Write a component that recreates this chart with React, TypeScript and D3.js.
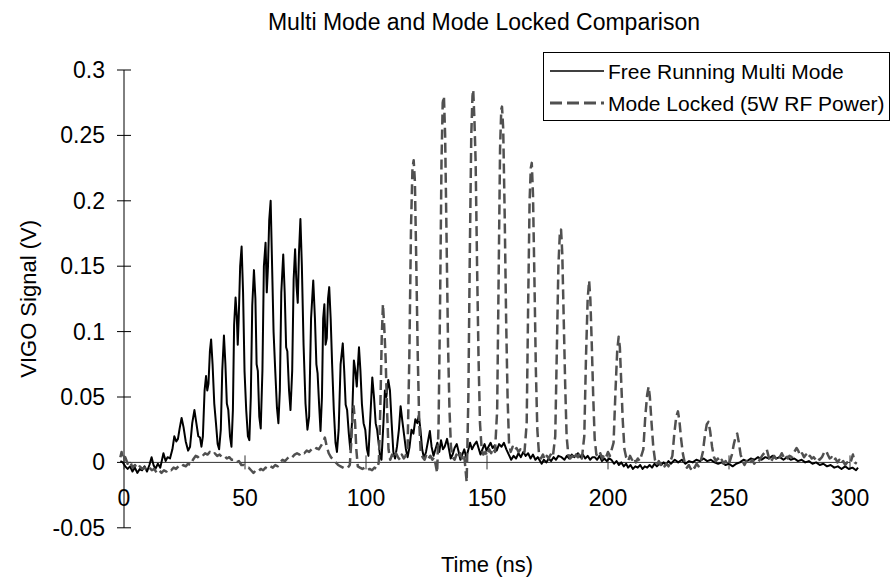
import React from "react";
import * as d3 from "d3";

const chartTitle = "Multi Mode and Mode Locked Comparison";
const xTitle = "Time (ns)";
const yTitle = "VIGO Signal (V)";
const seriesNames = ["Free Running Multi Mode", "Mode Locked (5W RF Power)"];
const xTicks = [0, 50, 100, 150, 200, 250, 300];
const yTicks = [-0.05, 0, 0.05, 0.1, 0.15, 0.2, 0.25, 0.3];
const yTickLabels = ["-0.05", "0", "0.05", "0.1", "0.15", "0.2", "0.25", "0.3"];

// Free running multi mode: [time ns, signal V]
const freeRunning: [number, number][] = [
  [-1.5, 0.001], [-0.5, 0.0], [0.5, -0.003], [1.5, -0.005], [2.5, -0.003], [3.5, -0.007], [4.5, -0.004],
  [5.5, -0.008], [6.5, -0.005], [7.5, -0.006], [8.5, -0.003], [9.5, -0.007], [10.5, -0.002], [11.4, 0.004],
  [12.2, -0.002], [13, -0.005], [14, -0.001], [15, -0.004], [16.3, 0.007], [17.2, 0.001], [18, 0.004],
  [19, 0.003], [20, 0.01], [20.8, 0.02], [21.6, 0.016], [22.3, 0.018], [23, 0.026], [23.8, 0.034],
  [24.6, 0.027], [25.5, 0.016], [26.5, 0.009], [27.3, 0.012], [28.2, 0.03], [29.1, 0.04], [29.9, 0.03],
  [30.7, 0.02], [31.4, 0.019], [32.0, 0.012], [32.6, 0.02], [33.3, 0.055], [33.9, 0.066], [34.4, 0.055],
  [34.9, 0.06], [35.5, 0.085], [36.0, 0.094], [36.6, 0.075], [37.3, 0.045], [38.0, 0.03], [38.7, 0.014],
  [39.3, 0.01], [40.0, 0.025], [40.6, 0.07], [41.3, 0.097], [41.9, 0.075], [42.5, 0.045], [43.1, 0.04],
  [43.8, 0.02], [44.4, 0.012], [45.0, 0.04], [45.5, 0.105], [46.1, 0.126], [46.6, 0.112], [47.0, 0.09],
  [47.4, 0.11], [48.0, 0.15], [48.6, 0.165], [49.2, 0.13], [49.8, 0.07], [50.5, 0.04], [51.2, 0.02],
  [51.8, 0.017], [52.4, 0.05], [53.0, 0.12], [53.7, 0.147], [54.3, 0.125], [54.8, 0.075], [55.3, 0.07],
  [55.9, 0.035], [56.5, 0.026], [57.2, 0.07], [57.8, 0.15], [58.5, 0.168], [59.0, 0.13], [59.5, 0.15],
  [60.0, 0.185], [60.6, 0.2], [61.2, 0.15], [61.8, 0.1], [62.5, 0.07], [63.2, 0.042], [63.8, 0.03],
  [64.4, 0.055], [65.0, 0.13], [65.8, 0.159], [66.4, 0.13], [67.0, 0.088], [67.5, 0.085], [68.2, 0.055],
  [68.8, 0.04], [69.5, 0.07], [70.1, 0.14], [70.7, 0.163], [71.3, 0.135], [71.8, 0.122], [72.3, 0.16],
  [72.9, 0.186], [73.5, 0.15], [74.2, 0.09], [75.0, 0.045], [75.8, 0.025], [76.5, 0.035], [77.3, 0.11],
  [78.2, 0.139], [78.9, 0.11], [79.5, 0.075], [80.0, 0.068], [80.6, 0.045], [81.2, 0.024], [81.8, 0.05],
  [82.3, 0.11], [82.8, 0.121], [83.3, 0.09], [83.8, 0.095], [84.3, 0.125], [84.8, 0.134], [85.4, 0.11],
  [86.0, 0.075], [86.7, 0.04], [87.4, 0.015], [88.0, 0.008], [88.7, 0.025], [89.5, 0.075], [90.4, 0.091],
  [91.0, 0.07], [91.6, 0.044], [92.2, 0.04], [92.9, 0.022], [93.5, 0.01], [94.2, 0.03], [95.0, 0.078],
  [95.6, 0.07], [96.2, 0.058], [96.6, 0.072], [97.1, 0.088], [97.7, 0.07], [98.3, 0.045], [99.0, 0.03],
  [99.7, 0.025], [100.4, 0.01], [101.0, 0.005], [101.8, 0.035], [102.6, 0.065], [103.3, 0.05], [104.0, 0.03],
  [104.6, 0.025], [105.2, 0.015], [105.8, 0.005], [106.4, 0.002], [107.2, 0.03], [107.8, 0.055], [108.4, 0.05],
  [109.2, 0.063], [109.9, 0.055], [110.6, 0.03], [111.3, 0.008], [112.0, 0.003], [112.8, 0.012], [113.6, 0.025],
  [114.3, 0.043], [115.0, 0.032], [115.8, 0.02], [116.5, 0.01], [117.2, 0.004], [118.0, 0.012], [118.8, 0.025],
  [119.6, 0.022], [120.4, 0.033], [121.2, 0.03], [121.8, 0.036], [122.5, 0.025], [123.2, 0.01], [124.0, 0.003],
  [124.8, 0.008], [125.6, 0.016], [126.4, 0.024], [127.1, 0.012], [127.9, 0.005], [128.7, 0.01], [129.5, 0.015],
  [130.3, 0.008], [131.0, 0.017], [131.8, 0.01], [132.5, 0.012], [133.5, 0.018], [134.3, 0.01], [135.0, 0.003],
  [135.8, 0.006], [136.6, 0.011], [137.5, 0.014], [138.3, 0.008], [139.0, 0.002], [139.8, 0.006], [140.6, 0.01],
  [141.4, 0.004], [142.2, 0.009], [143.0, 0.015], [143.8, 0.01], [144.6, 0.013], [145.7, 0.016], [146.5, 0.011],
  [147.3, 0.006], [148.1, 0.01], [149.0, 0.014], [149.8, 0.009], [150.6, 0.012], [151.5, 0.015], [152.3, 0.011],
  [153.2, 0.013], [154.0, 0.009], [155.0, 0.014], [156.0, 0.012], [157.0, 0.015], [158.0, 0.01], [159.0, 0.006],
  [160.0, 0.002], [161.0, 0.005], [162.0, 0.003], [163.0, 0.007], [164.0, 0.004], [165.0, 0.008], [166.0, 0.005],
  [167.0, 0.007], [168.0, 0.003], [169.0, 0.006], [170.0, 0.002], [171.0, 0.004], [172.6, -0.001], [173.5, 0.002],
  [174.5, 0.0], [175.5, 0.003], [176.5, 0.001], [177.5, 0.004], [178.5, 0.002], [179.5, 0.005], [180.8, 0.004],
  [182.0, 0.002], [183.0, 0.005], [184.0, 0.003], [185.0, 0.006], [186.0, 0.004], [187.6, 0.007], [188.6, 0.004],
  [189.6, 0.006], [190.6, 0.003], [191.6, 0.005], [192.6, 0.002], [193.6, 0.004], [194.5, 0.004], [195.5, 0.002],
  [196.5, 0.005], [197.5, 0.001], [198.5, 0.003], [199.5, 0.001], [200.5, 0.003], [201.4, 0.002], [202.5, -0.001],
  [203.5, 0.001], [204.5, -0.002], [205.5, 0.0], [206.5, -0.003], [207.5, -0.001], [208.3, -0.004], [209.3, -0.002],
  [210.3, -0.005], [211.3, -0.003], [212.3, -0.004], [213.3, -0.002], [214.3, -0.005], [215.2, -0.003], [216.2, -0.004],
  [217.2, -0.002], [218.2, -0.004], [219.2, -0.001], [220.2, -0.003], [221.2, -0.001], [222.0, -0.002], [223.0, 0.0],
  [224.0, -0.002], [225.0, 0.001], [226.0, -0.001], [227.6, 0.002], [229, 0.0], [230.5, 0.002], [232, -0.001],
  [233.5, 0.001], [235, 0.0], [236.5, 0.002], [238, 0.001], [239.5, 0.003], [241, 0.001], [242.5, 0.002],
  [244, 0.0], [245.5, -0.001], [247, 0.0], [248.5, -0.002], [250, -0.001], [251.5, -0.003], [253, -0.001],
  [254.5, 0.0], [256, 0.002], [257.5, 0.001], [259, 0.003], [260.5, 0.002], [262, 0.004], [263.5, 0.002],
  [265, 0.004], [266.5, 0.003], [268, 0.005], [269.5, 0.003], [271, 0.004], [272.5, 0.002], [274, 0.004],
  [275.5, 0.002], [277, 0.003], [278.5, 0.001], [280, 0.002], [281.5, 0.0], [283, 0.001], [284.5, -0.001],
  [286, 0.0], [287.5, -0.002], [289, -0.001], [290.5, -0.003], [292, -0.002], [293.5, -0.004], [295, -0.003],
  [296.5, -0.005], [298, -0.003], [299.5, -0.005], [301, -0.004], [302.5, -0.006], [303.3, -0.004],
];

// Mode locked (5W RF power): [time ns, signal V]
const modeLocked: [number, number][] = [
  [-1.5, 0.004], [-1.0, 0.008], [-0.5, 0.002], [0.5, 0.004], [1.5, -0.001], [2.5, 0.001], [3.5, -0.004],
  [4.5, -0.002], [5.5, -0.005], [6.5, -0.003], [7.5, -0.005], [8.5, -0.004], [9.5, -0.006], [10.5, -0.004],
  [11.5, -0.006], [12.5, -0.005], [13.5, -0.008], [14.5, -0.006], [15.5, -0.008], [16.5, -0.006], [17.5, -0.007],
  [18.5, -0.005], [19.5, -0.006], [20.5, -0.004], [21.5, -0.005], [22.5, -0.003], [23.5, -0.004], [24.5, -0.002],
  [25.5, -0.003], [26.5, -0.001], [27.5, -0.002], [28.5, 0.002], [29.6, 0.005], [30.5, 0.004], [31.5, 0.006],
  [32.5, 0.005], [33.5, 0.007], [34.5, 0.006], [35.5, 0.008], [36.5, 0.006], [37.5, 0.007], [38.5, 0.005],
  [39.5, 0.006], [40.5, 0.004], [41.5, 0.005], [42.5, 0.003], [43.5, 0.004], [44.5, 0.002], [45.5, 0.002],
  [46.5, 0.0], [47.5, 0.001], [48.5, -0.002], [49.5, -0.002], [50.5, -0.004], [51.5, -0.004], [52.5, -0.006],
  [53.5, -0.008], [54.5, -0.006], [55.5, -0.007], [56.5, -0.005], [57.5, -0.006], [58.5, -0.004], [59.5, -0.005],
  [60.5, -0.003], [61.5, -0.004], [62.5, -0.002], [63.5, -0.003], [64.5, 0.0], [65.5, 0.002], [66.5, 0.001],
  [67.5, 0.003], [68.5, 0.005], [69.5, 0.004], [70.5, 0.006], [71.5, 0.007], [72.5, 0.006], [73.5, 0.008],
  [74.5, 0.007], [75.5, 0.009], [76.5, 0.008], [77.5, 0.01], [78.5, 0.009], [79.5, 0.011], [80.5, 0.01],
  [81.5, 0.013], [82.2, 0.015], [83.0, 0.019], [83.8, 0.012], [84.6, 0.007], [85.5, 0.004], [86.5, 0.002],
  [87.5, 0.0], [88.5, -0.002], [89.5, -0.003], [90.5, -0.004], [91.5, -0.005], [92.5, -0.004], [93.3, -0.002],
  [93.9, 0.015], [94.4, 0.035], [94.9, 0.043], [95.5, 0.03], [96.0, 0.01], [96.6, -0.003], [97.5, -0.004],
  [98.5, -0.005], [99.5, -0.004], [100.5, -0.006], [101.5, -0.005], [102.5, -0.006], [103.5, -0.004], [104.5, -0.005],
  [105.3, 0.0], [105.9, 0.04], [106.5, 0.095], [107.0, 0.121], [107.5, 0.105], [108.1, 0.08], [108.7, 0.04],
  [109.3, 0.01], [110.0, 0.002], [110.8, 0.006], [111.6, 0.003], [112.4, 0.007], [113.2, 0.004], [114.0, 0.002],
  [114.8, 0.006], [115.6, 0.003], [116.4, 0.005], [117.2, 0.012], [117.9, 0.08], [118.6, 0.18], [119.2, 0.225],
  [119.7, 0.231], [120.2, 0.215], [120.8, 0.15], [121.4, 0.08], [122.0, 0.03], [122.6, 0.008], [123.4, 0.004],
  [124.2, 0.002], [125.0, 0.006], [125.8, 0.003], [126.6, 0.005], [127.4, 0.002], [128.2, 0.004], [129.4, -0.008],
  [130.0, 0.03], [130.6, 0.12], [131.2, 0.23], [131.7, 0.275], [132.2, 0.28], [132.7, 0.25], [133.3, 0.17],
  [133.9, 0.09], [134.5, 0.04], [135.1, 0.012], [135.8, 0.004], [136.6, 0.002], [137.4, 0.006], [138.2, 0.003],
  [139.0, 0.007], [139.8, 0.002], [140.6, 0.005], [141.6, -0.015], [142.3, 0.05], [142.9, 0.16], [143.5, 0.25],
  [144.0, 0.28], [144.3, 0.285], [144.8, 0.262], [145.3, 0.23], [145.9, 0.15], [146.5, 0.08], [147.1, 0.03],
  [147.8, 0.01], [148.5, 0.006], [149.3, 0.008], [150.1, 0.005], [150.9, 0.01], [151.7, 0.007], [152.5, 0.011],
  [153.3, 0.008], [154.2, 0.04], [154.8, 0.14], [155.4, 0.24], [155.9, 0.27], [156.2, 0.272], [156.7, 0.255],
  [157.3, 0.19], [157.9, 0.11], [158.5, 0.05], [159.1, 0.015], [159.8, 0.008], [160.6, 0.012], [161.4, 0.009],
  [162.2, 0.011], [163.0, 0.008], [163.8, 0.01], [164.6, 0.007], [165.5, 0.008], [166.4, 0.03], [167.0, 0.12],
  [167.6, 0.2], [168.1, 0.225], [168.5, 0.229], [169.0, 0.205], [169.6, 0.14], [170.2, 0.07], [170.8, 0.025],
  [171.5, 0.006], [172.3, 0.003], [173.1, 0.006], [173.9, 0.002], [174.7, 0.005], [175.5, 0.003], [176.3, 0.006],
  [177.2, 0.004], [178.2, 0.02], [178.9, 0.09], [179.5, 0.15], [180.1, 0.175], [180.6, 0.178], [181.1, 0.16],
  [181.7, 0.11], [182.3, 0.06], [182.9, 0.02], [183.6, 0.006], [184.4, 0.003], [185.2, 0.005], [186.0, 0.002],
  [186.8, 0.006], [187.6, 0.004], [188.4, 0.007], [189.2, 0.003], [190.2, 0.02], [190.9, 0.08], [191.6, 0.125],
  [192.2, 0.139], [192.7, 0.125], [193.3, 0.09], [193.9, 0.05], [194.5, 0.018], [195.2, 0.006], [196.0, 0.004],
  [196.8, 0.007], [197.6, 0.003], [198.4, 0.006], [199.2, 0.004], [200.0, 0.008], [200.8, 0.005], [202.3, 0.015],
  [203.1, 0.055], [203.8, 0.085], [204.4, 0.096], [204.9, 0.088], [205.5, 0.06], [206.1, 0.032], [206.8, 0.01],
  [207.5, 0.004], [208.3, 0.001], [209.1, 0.005], [209.9, 0.002], [210.7, 0.004], [211.5, 0.0], [212.3, 0.003],
  [213.1, 0.001], [214.6, 0.01], [215.4, 0.035], [216.2, 0.052], [216.8, 0.058], [217.3, 0.05], [218.0, 0.03],
  [218.7, 0.012], [219.4, 0.002], [220.2, -0.002], [221.0, 0.001], [221.8, -0.002], [222.6, 0.0], [223.4, -0.003],
  [224.2, -0.001], [225.0, -0.003], [226.6, 0.005], [227.4, 0.022], [228.2, 0.035], [228.9, 0.039], [229.5, 0.032],
  [230.2, 0.018], [231.0, 0.006], [231.8, -0.001], [232.6, -0.004], [233.4, -0.002], [234.2, -0.005], [235.0, -0.002],
  [235.8, -0.004], [236.6, -0.001], [237.4, -0.003], [238.2, 0.0], [239.2, 0.008], [240.0, 0.02], [240.8, 0.029],
  [241.5, 0.031], [242.2, 0.024], [243.0, 0.012], [243.8, 0.004], [244.6, 0.001], [245.4, 0.003], [246.2, 0.0],
  [247.0, 0.002], [247.8, -0.001], [248.6, 0.001], [249.4, -0.002], [250.2, 0.0], [251.2, 0.006], [252.0, 0.014],
  [252.8, 0.02], [253.4, 0.022], [254.0, 0.016], [254.8, 0.006], [255.6, 0.001], [256.4, -0.002], [257.2, 0.001],
  [258.0, -0.002], [258.8, 0.0], [259.6, 0.002], [260.4, -0.001], [261.2, 0.001], [262.0, 0.0], [263.0, 0.003],
  [264.0, 0.006], [265.0, 0.008], [265.6, 0.01], [266.3, 0.005], [267.0, 0.0], [267.8, 0.002], [268.6, 0.005],
  [269.4, 0.003], [270.2, 0.006], [271.0, 0.004], [271.8, 0.007], [272.6, 0.004], [273.4, 0.006], [274.2, 0.003],
  [275.0, 0.005], [276.0, 0.004], [277.0, 0.008], [277.9, 0.011], [278.6, 0.009], [279.4, 0.005], [280.2, 0.007],
  [281.0, 0.004], [281.8, 0.006], [282.6, 0.003], [283.4, 0.005], [284.2, 0.003], [285.0, 0.004], [285.8, 0.002],
  [286.6, 0.004], [287.4, 0.002], [288.4, 0.004], [289.4, 0.008], [290.1, 0.009], [290.8, 0.006], [291.6, 0.003],
  [292.4, 0.004], [293.2, 0.001], [294.0, 0.003], [294.8, 0.0], [295.6, 0.002], [296.4, -0.001], [297.2, 0.001],
  [298.0, -0.002], [298.8, 0.0], [299.6, -0.001], [300.4, 0.001], [301.2, 0.006], [302.0, 0.0], [302.8, -0.001],
];

const W = 893;
const H = 584;
const FONT = "'Liberation Sans', Arial, Helvetica, sans-serif";

export default function App() {
  const x = d3.scaleLinear().domain([0, 300]).range([124, 850]);
  const y = d3.scaleLinear().domain([-0.05, 0.3]).range([527.8, 70]);
  const line = d3
    .line<[number, number]>()
    .x((d) => x(d[0]))
    .y((d) => y(d[1]));
  const y0 = y(0);
  const gray = "#505050";

  return (
    <svg
      width={W}
      height={H}
      style={{ position: "absolute", left: 0, top: 0, background: "#fff" }}
      fontFamily={FONT}
    >
      <rect x={0} y={0} width={W} height={H} fill="#fff" />
      <text x={484} y={30} textAnchor="middle" fontSize={23} fill="#000">
        {chartTitle}
      </text>

      {/* y axis */}
      <line x1={124} x2={124} y1={y(0.3)} y2={y(-0.05)} stroke="#000" strokeWidth={1} />
      {yTicks.map((t, i) => (
        <g key={"y" + i}>
          <line x1={117} x2={131} y1={y(t)} y2={y(t)} stroke="#000" strokeWidth={1} />
          <text x={105} y={y(t)} textAnchor="end" dominantBaseline="central" fontSize={23}>
            {yTickLabels[i]}
          </text>
        </g>
      ))}

      {/* x axis at zero */}
      <line x1={x(0)} x2={x(300)} y1={y0} y2={y0} stroke="#333" strokeWidth={1} />
      {xTicks.map((t) => (
        <g key={"x" + t}>
          <line x1={x(t)} x2={x(t)} y1={y0 - 7} y2={y0 + 7} stroke="#333" strokeWidth={1} />
          <text x={x(t)} y={498} textAnchor="middle" dominantBaseline="central" fontSize={23}>
            {t}
          </text>
        </g>
      ))}

      {/* series */}
      <path d={line(freeRunning) || ""} fill="none" stroke="#000" strokeWidth={2} strokeLinejoin="round" />
      <path
        d={line(modeLocked) || ""}
        fill="none"
        stroke={gray}
        strokeWidth={2.5}
        strokeDasharray="10,5"
        strokeLinejoin="round"
      />

      {/* axis titles */}
      <text x={487} y={572} textAnchor="middle" fontSize={22}>
        {xTitle}
      </text>
      <text
        transform={`translate(36, ${y(0.125)}) rotate(-90)`}
        textAnchor="middle"
        fontSize={22}
      >
        {yTitle}
      </text>

      {/* legend */}
      <rect x={543.5} y={52.5} width={346} height={68} fill="#fff" stroke="#000" strokeWidth={1} />
      <line x1={550} x2={604} y1={71} y2={71} stroke="#000" strokeWidth={1.3} />
      <text x={608} y={71} dominantBaseline="central" fontSize={21}>
        {seriesNames[0]}
      </text>
      <line x1={550} x2={604} y1={103} y2={103} stroke={gray} strokeWidth={3} strokeDasharray="12,5" />
      <text x={608} y={103} dominantBaseline="central" fontSize={21}>
        {seriesNames[1]}
      </text>
    </svg>
  );
}
